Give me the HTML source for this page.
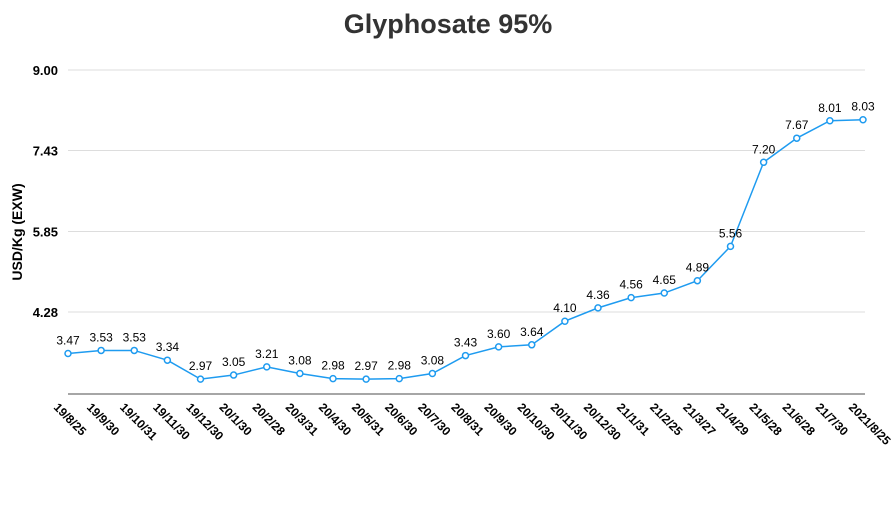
<!DOCTYPE html>
<html><head><meta charset="utf-8"><style>
body{margin:0;background:#fff;}
svg text{font-family:"Liberation Sans",Arial,sans-serif;}
</style></head><body>
<svg id="chart" width="896" height="504" viewBox="0 0 896 504" xmlns="http://www.w3.org/2000/svg">
<text x="448" y="33" text-anchor="middle" font-size="27" font-weight="bold" style="font-family:'Liberation Sans Narrow','Liberation Sans',sans-serif" fill="#333">Glyphosate 95%</text>
<text transform="translate(22,232) rotate(-90)" text-anchor="middle" font-size="14" font-weight="bold" fill="#000">USD/Kg   (EXW)</text>
<g id="grid"></g><g id="xlabels"></g><g id="series"></g>
</svg>
<script>
const categories=["19/8/25","19/9/30","19/10/31","19/11/30","19/12/30","20/1/30","20/2/28","20/3/31","20/4/30","20/5/31","20/6/30","20/7/30","20/8/31","20/9/30","20/10/30","20/11/30","20/12/30","21/1/31","21/2/25","21/3/27","21/4/29","21/5/28","21/6/28","21/7/30","2021/8/25"];
const values=[3.47,3.53,3.53,3.34,2.97,3.05,3.21,3.08,2.98,2.97,2.98,3.08,3.43,3.60,3.64,4.10,4.36,4.56,4.65,4.89,5.56,7.20,7.67,8.01,8.03];
const yTicks=[9.00,7.43,5.85,4.28];
const NS="http://www.w3.org/2000/svg";
const x0=68,x1=863;
function xs(i){return x0+i*(x1-x0)/(categories.length-1);}
function ys(v){return 70+(9-v)*51.27;}
function mk(t,a,p){const e=document.createElementNS(NS,t);for(const k in a)e.setAttribute(k,a[k]);p.appendChild(e);return e;}
const grid=document.getElementById('grid');
yTicks.forEach(v=>{
 const l=mk('line',{x1:x0,x2:x1+2,y1:ys(v),y2:ys(v),stroke:'#ddd','stroke-width':1},grid);
 
 
 const t=mk('text',{x:58,y:ys(v)+5,'text-anchor':'end','font-size':13,'font-weight':'bold',fill:'#000'},grid);
 t.textContent=v.toFixed(2);
 
 
});
const ax=mk('line',{x1:x0,x2:x1+2,y1:394,y2:394,stroke:'#888','stroke-width':1.5},grid);


const xl=document.getElementById('xlabels');
categories.forEach((c,i)=>{
 const x=xs(i)-15,y=408;
 const t=mk('text',{x:x,y:y,transform:`rotate(45 ${x} ${y})`,'font-size':12,'font-weight':'bold',fill:'#000'},xl);
 t.textContent=c;
 
 
});
const s=document.getElementById('series');
const pl=mk('polyline',{points:values.map((v,i)=>xs(i)+','+ys(v)).join(' '),fill:'none',stroke:'#1e9bf0','stroke-width':1.5},s);


values.forEach((v,i)=>{
 const c=mk('circle',{cx:xs(i),cy:ys(v),r:3,fill:'#fff',stroke:'#1e9bf0','stroke-width':1.5},s);
 
 
 const t=mk('text',{x:xs(i),y:ys(v)-9,'text-anchor':'middle','font-size':12,fill:'#000'},s);
 t.textContent=v.toFixed(2);
 
 
});
</script>
</body></html>
